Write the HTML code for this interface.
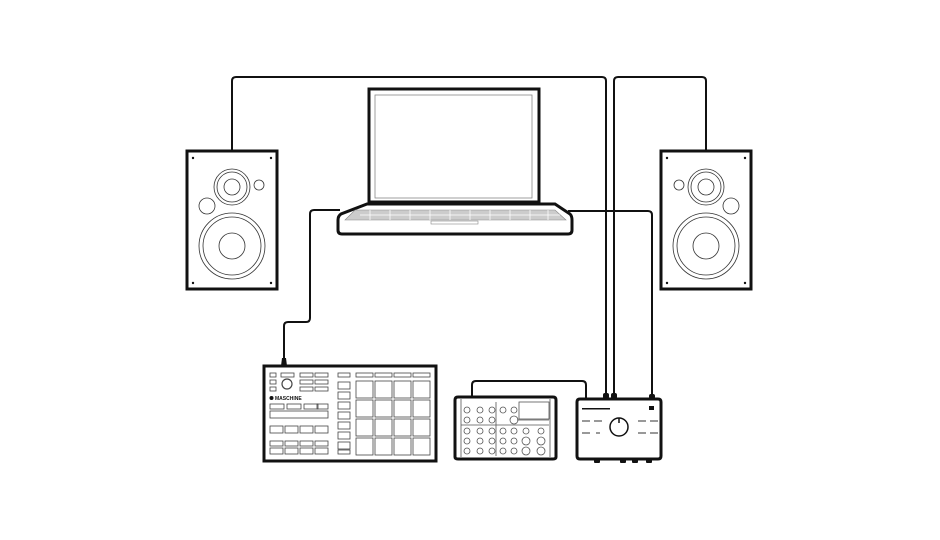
<!DOCTYPE html>
<html><head><meta charset="utf-8"><style>html,body{margin:0;padding:0;background:#fff}svg{display:block}</style></head>
<body>
<svg width="940" height="540" viewBox="0 0 940 540" xmlns="http://www.w3.org/2000/svg" fill="none" stroke="#111">
<!-- cables -->
<g stroke-width="2" stroke="#111" fill="none">
<path d="M232 151 V81 Q232 77 236 77 H602 Q606 77 606 81 V393"/>
<path d="M706 151 V81 Q706 77 702 77 H618 Q614 77 614 81 V393"/>
<path d="M340 210 H314 Q310 210 310 214 V318 Q310 322 306 322 H288 Q284 322 284 326 V366"/>
<path d="M568 211 H648 Q652 211 652 215 V396"/>
<path d="M472 397 V385 Q472 381 476 381 H582 Q586 381 586 385 V400"/>
</g>
<path d="M281 366 L282 358 H286 L287 366 Z" fill="#111" stroke="none"/>
<!-- speakers -->
<g id="spk">
<rect x="187" y="151" width="90" height="138" stroke-width="3" fill="#fff"/>
<g fill="#111" stroke="none"><circle cx="193" cy="158" r="1.2"/><circle cx="271" cy="158" r="1.2"/><circle cx="193" cy="283" r="1.2"/><circle cx="271" cy="283" r="1.2"/></g>
<g stroke-width="0.8" stroke="#333">
<circle cx="232" cy="187" r="18"/><circle cx="232" cy="187" r="15"/><circle cx="232" cy="187" r="8"/>
<circle cx="259" cy="185" r="5"/><circle cx="207" cy="206" r="8"/>
<circle cx="232" cy="246" r="33"/><circle cx="232" cy="246" r="29"/><circle cx="232" cy="246" r="13"/>
</g>
</g>
<g transform="translate(938 0) scale(-1 1)">
<rect x="187" y="151" width="90" height="138" stroke-width="3" fill="#fff"/>
<g fill="#111" stroke="none"><circle cx="193" cy="158" r="1.2"/><circle cx="271" cy="158" r="1.2"/><circle cx="193" cy="283" r="1.2"/><circle cx="271" cy="283" r="1.2"/></g>
<g stroke-width="0.8" stroke="#333">
<circle cx="232" cy="187" r="18"/><circle cx="232" cy="187" r="15"/><circle cx="232" cy="187" r="8"/>
<circle cx="259" cy="185" r="5"/><circle cx="207" cy="206" r="8"/>
<circle cx="232" cy="246" r="33"/><circle cx="232" cy="246" r="29"/><circle cx="232" cy="246" r="13"/>
</g>
</g>
<!-- laptop -->
<rect x="369" y="89" width="170" height="113" stroke-width="3" fill="#fff"/>
<rect x="375" y="95" width="157" height="103" stroke-width="0.8" stroke="#888"/>
<path d="M367 204 L555 204 L570 214 Q572 216 572 220 V230 Q572 234 568 234 H342 Q338 234 338 230 V220 Q338 216 341 214 Z" stroke-width="3" fill="#fff"/>
<path d="M355 210 H555 L566 220 H345 Z" fill="#ccc" stroke="#888" stroke-width="0.6"/>
<g stroke="#fff" stroke-width="0.8"><path d="M360 215 H560 M370 210 V220 M390 210 V220 M410 210 V220 M430 210 V220 M450 210 V220 M470 210 V220 M490 210 V220 M510 210 V220 M530 210 V220 M548 210 V220"/></g>
<rect x="431" y="221" width="47" height="3" stroke="#888" stroke-width="0.6"/>
<!-- maschine -->
<rect x="264" y="366" width="172" height="95" stroke-width="3" fill="#fff"/>
<g stroke="#444" stroke-width="0.8">
<rect x="270" y="373" width="6" height="4"/><rect x="270" y="380" width="6" height="4"/><rect x="270" y="387" width="6" height="4"/>
<rect x="281" y="373" width="13" height="4"/><rect x="300" y="373" width="13" height="4"/><rect x="315" y="373" width="13" height="4"/>
<rect x="300" y="380" width="13" height="4"/><rect x="315" y="380" width="13" height="4"/><rect x="300" y="387" width="13" height="4"/><rect x="315" y="387" width="13" height="4"/>
<circle cx="287" cy="384" r="5" stroke-width="1.2"/>
<rect x="270" y="404" width="14" height="5"/><rect x="287" y="404" width="14" height="5"/><rect x="304" y="404" width="14" height="5"/><rect x="317" y="404" width="11" height="5"/>
<rect x="270" y="411" width="58" height="7"/>
<rect x="270" y="426" width="13" height="7"/><rect x="285" y="426" width="13" height="7"/><rect x="300" y="426" width="13" height="7"/><rect x="315" y="426" width="13" height="7"/>
<rect x="270" y="441" width="13" height="5"/><rect x="285" y="441" width="13" height="5"/><rect x="300" y="441" width="13" height="5"/><rect x="315" y="441" width="13" height="5"/>
<rect x="270" y="448" width="13" height="6"/><rect x="285" y="448" width="13" height="6"/><rect x="300" y="448" width="13" height="6"/><rect x="315" y="448" width="13" height="6"/>
<rect x="338" y="373" width="12" height="4"/><rect x="356" y="373" width="17" height="4"/><rect x="375" y="373" width="17" height="4"/><rect x="394" y="373" width="17" height="4"/><rect x="413" y="373" width="17" height="4"/>
<rect x="338" y="382" width="12" height="7"/><rect x="338" y="392" width="12" height="7"/><rect x="338" y="402" width="12" height="7"/><rect x="338" y="412" width="12" height="7"/><rect x="338" y="422" width="12" height="7"/><rect x="338" y="432" width="12" height="7"/><rect x="338" y="442" width="12" height="7"/><rect x="338" y="450" width="12" height="4"/>
</g>
<g stroke="#444" stroke-width="0.8">
<rect x="356" y="381" width="17" height="17"/><rect x="375" y="381" width="17" height="17"/><rect x="394" y="381" width="17" height="17"/><rect x="413" y="381" width="17" height="17"/>
<rect x="356" y="400" width="17" height="17"/><rect x="375" y="400" width="17" height="17"/><rect x="394" y="400" width="17" height="17"/><rect x="413" y="400" width="17" height="17"/>
<rect x="356" y="419" width="17" height="17"/><rect x="375" y="419" width="17" height="17"/><rect x="394" y="419" width="17" height="17"/><rect x="413" y="419" width="17" height="17"/>
<rect x="356" y="438" width="17" height="17"/><rect x="375" y="438" width="17" height="17"/><rect x="394" y="438" width="17" height="17"/><rect x="413" y="438" width="17" height="17"/>
</g>
<circle cx="271.5" cy="398" r="2" fill="#111" stroke="none"/>
<text x="275" y="400" font-family="Liberation Sans, sans-serif" font-size="5" font-weight="bold" fill="#111" stroke="none">MASCHINE</text>
<!-- mixer -->
<path d="M458 397 H553 Q556 397 556 400 V457 Q556 459 553 459 H458 Q455 459 455 457 V400 Q455 397 458 397 Z" stroke-width="3" fill="#fff"/>
<g stroke="#555" stroke-width="0.8">
<path d="M461 399 V457 M550 399 V457 M496 402 V456 M517 420 H549 M461 425 H549"/>
<rect x="519" y="402" width="30" height="17"/>
<g fill="none">
<circle cx="467" cy="410" r="3"/><circle cx="480" cy="410" r="3"/><circle cx="492" cy="410" r="3"/><circle cx="503" cy="410" r="3"/><circle cx="514" cy="410" r="3"/>
<circle cx="467" cy="420" r="3"/><circle cx="480" cy="420" r="3"/><circle cx="492" cy="420" r="3"/><circle cx="514" cy="420" r="4"/>
<circle cx="467" cy="431" r="3"/><circle cx="480" cy="431" r="3"/><circle cx="492" cy="431" r="3"/><circle cx="503" cy="431" r="3"/><circle cx="514" cy="431" r="3"/><circle cx="526" cy="431" r="3"/><circle cx="541" cy="431" r="3"/>
<circle cx="467" cy="441" r="3"/><circle cx="480" cy="441" r="3"/><circle cx="492" cy="441" r="3"/><circle cx="503" cy="441" r="3"/><circle cx="514" cy="441" r="3"/><circle cx="526" cy="441" r="4"/><circle cx="541" cy="441" r="4"/>
<circle cx="467" cy="451" r="3"/><circle cx="480" cy="451" r="3"/><circle cx="492" cy="451" r="3"/><circle cx="503" cy="451" r="3"/><circle cx="514" cy="451" r="3"/><circle cx="526" cy="451" r="4"/><circle cx="541" cy="451" r="4"/>
</g></g>
<!-- interface -->
<path d="M580 399 H658 Q661 399 661 402 V456 Q661 459 658 459 H580 Q577 459 577 456 V402 Q577 399 580 399 Z" stroke-width="3" fill="#fff"/>
<g fill="#111" stroke="none">
<rect x="603" y="393" width="6" height="6" rx="2"/><rect x="611" y="393" width="6" height="6" rx="2"/><rect x="649" y="394" width="6" height="5" rx="2"/>
<rect x="594" y="459" width="6" height="4" rx="1"/><rect x="620" y="459" width="6" height="4" rx="1"/><rect x="632" y="459" width="6" height="4" rx="1"/><rect x="646" y="459" width="6" height="4" rx="1"/>
<rect x="582" y="408" width="28" height="1.5"/><rect x="649" y="406" width="5" height="4"/>
</g>
<g stroke="#333" stroke-width="1">
<path d="M582 421 H590 M594 421 H602 M638 421 H646 M650 421 H658 M582 433 H590 M596 433 H600 M638 433 H646 M650 433 H658"/>
</g>
<circle cx="619" cy="427" r="9" stroke-width="1.5"/>
<path d="M619 418 V423" stroke-width="1.5"/>
</svg>
</body></html>
